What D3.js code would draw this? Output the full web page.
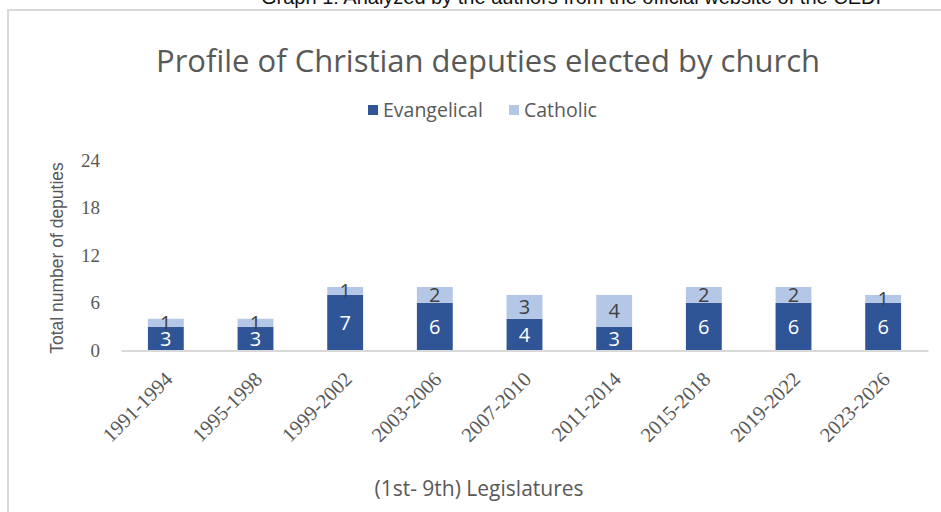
<!DOCTYPE html>
<html>
<head>
<meta charset="utf-8">
<script src="https://cdn.jsdelivr.net/npm/d3@7"></script>
<style>
  body { margin: 0; background: #fff; }
  svg { display: block; }
</style>
</head>
<body>
<script>
// chart data
var legislatures = ["1991-1994", "1995-1998", "1999-2002", "2003-2006", "2007-2010",
                    "2011-2014", "2015-2018", "2019-2022", "2023-2026"];
var evangelical = [3, 3, 7, 6, 4, 3, 6, 6, 6];
var catholic = [1, 1, 1, 2, 3, 4, 2, 2, 1];
var yTicks = [0, 6, 12, 18, 24];
var seriesNames = ["Evangelical", "Catholic"];

var W = 941, H = 512;
var colors = {Evangelical: "#2f5597", Catholic: "#b4c7e7"};
var textGray = "#595959";
var serif = "'Liberation Serif', 'Times New Roman', serif";
var sans = "'Open Sans', 'Noto Sans', sans-serif";

var svg = d3.select("body").append("svg")
    .attr("width", W)
    .attr("height", H);

// caption above the frame (cut off at the top)
svg.append("text")
    .attr("x", 571)
    .attr("y", 4)
    .attr("text-anchor", "middle")
    .style("font-family", "'Liberation Sans', Arial, sans-serif")
    .style("font-size", "20px")
    .style("fill", "#111")
    .text("Graph 1: Analyzed by the authors from the official website of the CEDI");

// chart frame
svg.append("rect")
    .attr("x", 8).attr("y", 10)
    .attr("width", 960).attr("height", 540)
    .attr("fill", "none")
    .attr("stroke", "#d9d9d9")
    .attr("stroke-width", 2);

var plotLeft = 121, plotRight = 928, plotTop = 160, plotBottom = 350.5;

var data = legislatures.map(function(d, i) {
  return {leg: d, Evangelical: evangelical[i], Catholic: catholic[i]};
});

var x = d3.scaleBand()
    .domain(legislatures)
    .range([plotLeft, plotRight])
    .paddingInner(0.6)
    .paddingOuter(0.3);

var y = d3.scaleLinear()
    .domain([0, 24])
    .range([plotBottom, plotTop]);

var layers = d3.stack().keys(seriesNames)(data);

// title
svg.append("text")
    .attr("x", 488)
    .attr("y", 72)
    .attr("text-anchor", "middle")
    .style("font-family", sans)
    .style("font-size", "31px")
    .style("fill", textGray)
    .text("Profile of Christian deputies elected by church");

// legend
var legend = svg.append("g").attr("class", "legend");
var legX = [368, 509];
seriesNames.forEach(function(name, i) {
  var g = legend.append("g").attr("transform", "translate(" + legX[i] + ",110)");
  g.append("rect")
      .attr("x", 0).attr("y", -5)
      .attr("width", 10).attr("height", 10)
      .attr("fill", colors[name]);
  g.append("text")
      .attr("x", 15).attr("y", 7)
      .style("font-family", sans)
      .style("font-size", "19.5px")
      .style("fill", textGray)
      .text(name);
});

// y axis (no line, serif labels)
var yAxis = d3.axisLeft(y)
    .tickValues(yTicks)
    .tickSize(0)
    .tickPadding(0);

svg.append("g")
    .attr("class", "y axis")
    .attr("transform", "translate(100,0)")
    .call(yAxis)
    .call(function(g) { g.select(".domain").remove(); })
    .selectAll("text")
    .style("font-family", serif)
    .style("font-size", "19px")
    .style("fill", textGray);

svg.append("text")
    .attr("transform", "translate(63,258) rotate(-90)")
    .attr("text-anchor", "middle")
    .style("font-family", "'Liberation Sans', Arial, sans-serif")
    .style("font-size", "17.5px")
    .style("fill", textGray)
    .text("Total number of deputies");

// bars
var series = svg.selectAll("g.series")
    .data(layers)
  .enter().append("g")
    .attr("class", "series")
    .attr("fill", function(d) { return colors[d.key]; });

series.selectAll("rect")
    .data(function(d) { return d; })
  .enter().append("rect")
    .attr("x", function(d) { return x(d.data.leg); })
    .attr("width", x.bandwidth())
    .attr("y", function(d) { return y(d[1]); })
    .attr("height", function(d) { return y(d[0]) - y(d[1]); });

// value labels
series.selectAll("text")
    .data(function(d) { return d.map(function(p) { p.key = d.key; return p; }); })
  .enter().append("text")
    .attr("x", function(d) { return x(d.data.leg) + x.bandwidth() / 2; })
    .attr("y", function(d) { return (y(d[0]) + y(d[1])) / 2; })
    .attr("dy", "0.36em")
    .attr("text-anchor", "middle")
    .style("font-family", sans)
    .style("font-size", "20px")
    .style("fill", function(d) { return d.key === "Evangelical" ? "#fff" : "#404040"; })
    .text(function(d) { return d.data[d.key]; });

// x axis
var xAxis = d3.axisBottom(x).tickSize(0).tickPadding(0);

var xg = svg.append("g")
    .attr("class", "x axis")
    .attr("transform", "translate(0," + plotBottom + ")")
    .call(xAxis);

xg.select(".domain")
    .attr("stroke", "#d9d9d9")
    .attr("stroke-width", 2);

xg.selectAll("text")
    .style("font-family", serif)
    .style("font-size", "20.5px")
    .style("fill", textGray)
    .style("text-anchor", "end")
    .attr("dx", "0")
    .attr("dy", "0")
    .attr("transform", "translate(8,30) rotate(-45)");

svg.append("text")
    .attr("x", 479)
    .attr("y", 496)
    .attr("text-anchor", "middle")
    .style("font-family", sans)
    .style("font-size", "21px")
    .style("fill", textGray)
    .text("(1st- 9th) Legislatures");
</script>
</body>
</html>
